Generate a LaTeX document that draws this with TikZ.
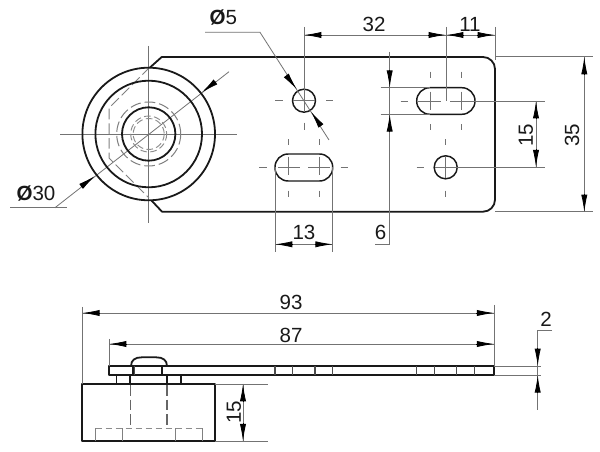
\documentclass[tikz,border=0pt]{standalone}
\usepackage{fontspec}
\setmainfont{Liberation Sans}
\usetikzlibrary{arrows.meta}
\tikzset{
  outline/.style={line width=1.35pt,black!90,line join=round},
  thinline/.style={line width=0.7pt,black!55},
  dimline/.style={line width=0.6pt,black!55},
  hidden/.style={line width=0.75pt,black!50,dash pattern=on 8pt off 3pt},
  hiddenb/.style={line width=0.7pt,black!45,dash pattern=on 5pt off 2.5pt},
  hiddenk/.style={line width=1pt,black!60,dash pattern=on 8pt off 3pt},
  tip/.style={-{Latex[length=13pt,width=4.6pt]},line width=0.6pt,black},
  lbl/.style={inner sep=0pt,font=\fontsize{15.4}{17}\selectfont,text=black!90},
}
\newcommand{\diam}{{\bfseries Ø}}
\begin{document}
\begin{tikzpicture}[x=0.75pt,y=-0.75pt]
\useasboundingbox (0,0) rectangle (600,452);
\fill[white] (0,0) rectangle (600,452);
% --- centre lines of the roller
\draw[thinline] (60,134) -- (237,134);
\draw[thinline] (148.7,46) -- (148.7,223);
% --- Ø30 leader
\draw[dimline] (10,207.7) -- (66.7,207.7);
\draw[dimline] (55,207.7) -- (229,71.7);
\draw[tip] (81,186.5) -- (95,176);
\draw[tip] (215.7,81.7) -- (201.7,92.5);
% --- hidden edges in the roller
\draw[hidden] (150,67) -- (109,108) -- (109,158) -- (149,198);
\draw[hidden] (148.7,134) circle [radius=32];
\draw[hiddenb] (148.7,134) circle [radius=18];
\draw[hiddenb] (148.7,134) circle [radius=15.5];
% --- roller
\draw[outline] (148.7,134) circle [radius=66.3];
\draw[outline] (148.7,134) circle [radius=53.3];
\draw[outline] (148.7,134) circle [radius=26.7];
% --- plate
\draw[outline] (150,67.5) -- (161.7,57) [rounded corners=9pt] -- (495,57) -- (495,211.7) [sharp corners] -- (162,211.7) -- (151.7,200.7);
% --- holes and slots
\draw[outline,line width=1.1pt] (304,100.7) circle [radius=11.5];
\draw[outline,line width=1.1pt] (445.7,167.3) circle [radius=11.5];
\draw[outline,line width=1.1pt,rounded corners=9.9pt] (416.7,87.7) rectangle (475,114.3);
\draw[outline,line width=1.1pt,rounded corners=9.9pt] (275,154) rectangle (332.7,181);
% --- centre-line pieces
\foreach \a/\b in {275/283,293/315,326/333}{\draw[thinline] (\a,100.7) -- (\b,100.7);}
\draw[thinline] (304,122.7) -- (304,130);
\foreach \a/\b in {400.7/408.3,418/441}{\draw[thinline] (\a,101) -- (\b,101);}
\foreach \x in {430,461}{
  \draw[thinline] (\x,71.7) -- (\x,78.3);
  \draw[thinline] (\x,91.7) -- (\x,110);
  \draw[thinline] (\x,124.3) -- (\x,130);
}
\foreach \a/\b in {259.3/266.7,278/300,308/330,340.7/348.3}{\draw[thinline] (\a,167.5) -- (\b,167.5);}
\foreach \x in {288.3,319.3}{
  \draw[thinline] (\x,139.3) -- (\x,145);
  \draw[thinline] (\x,156.7) -- (\x,175);
  \draw[thinline] (\x,190.7) -- (\x,196.7);
}
\foreach \a/\b in {416.7/424,435/457}{\draw[thinline] (\a,167.3) -- (\b,167.3);}
\draw[thinline] (445.7,139.3) -- (445.7,145);
\draw[thinline] (445.7,156.7) -- (445.7,178);
\draw[thinline] (445.7,190.7) -- (445.7,196.7);
% --- Ø5 leader
\draw[dimline] (205,32.3) -- (260,32.3) -- (329,140);
\draw[tip] (286.7,76) -- (296.7,89.3);
\draw[tip] (321,126) -- (311,111.7);
\node[lbl] (d5) at (223.3,17.5) {\diam5};
\node[lbl] (d30) at (36,193.5) {\diam30};
% --- 32 and 11
\draw[dimline] (304,27) -- (304,112);
\draw[dimline] (446,27) -- (446,101);
\draw[dimline] (495,27) -- (495,60);
\draw[dimline] (304,35) -- (495,35);
\draw[tip] (322,35) -- (304,35);
\draw[tip] (428,35) -- (446,35);
\draw[tip] (464,35) -- (446,35);
\draw[tip] (477,35) -- (495,35);
\node[lbl] (n32) at (374,24) {32};
\node[lbl] (n11) at (470,24) {11};
% --- 35
\draw[dimline] (495,56.7) -- (592.7,56.7);
\draw[dimline] (495,211.7) -- (592.7,211.7);
\draw[dimline] (584.3,57) -- (584.3,212);
\draw[tip] (584.3,75) -- (584.3,57);
\draw[tip] (584.3,194) -- (584.3,212);
\node[lbl,rotate=90] (n35) at (572,135) {35};
% --- 15 (plate)
\draw[dimline] (450,101) -- (545,101);
\draw[dimline] (457,167.3) -- (545,167.3);
\draw[dimline] (536,101) -- (536,167.3);
\draw[tip] (536,119) -- (536,101);
\draw[tip] (536,149.3) -- (536,167.3);
\node[lbl,rotate=90] (n15a) at (526,135) {15};
% --- 6
\draw[dimline] (380.7,87.7) -- (430,87.7);
\draw[dimline] (380.7,114.3) -- (430,114.3);
\draw[dimline] (389.7,52) -- (389.7,244) -- (375,244);
\draw[tip] (389.7,69.7) -- (389.7,87.7);
\draw[tip] (389.7,132.3) -- (389.7,114.3);
\node[lbl] (n6) at (380.7,232.5) {6};
% --- 13
\draw[dimline] (275,167.5) -- (275,252);
\draw[dimline] (332.7,167.5) -- (332.7,252);
\draw[dimline] (275,244.3) -- (332.7,244.3);
\draw[tip] (293,244.3) -- (275,244.3);
\draw[tip] (314.7,244.3) -- (332.7,244.3);
\node[lbl] (n13) at (304,232) {13};
% --- side view: plate
\draw[outline] (109,366.3) rectangle (494.3,375.3);
\foreach \x in {275,292.7,315,332.7,416.7,434.3,456.7,474.7}{\draw[line width=0.8pt,black!70] (\x,366.3) -- (\x,375.3);}
\draw[line width=0.8pt,black!70] (134,366.3) -- (134,375.3);
\draw[outline] (133,366.3) -- (133,375.3);
\draw[outline] (162.3,366.3) -- (162.3,375.3);
% --- head
\draw[outline] (131,366.3) .. controls (131,360) and (135,357.3) .. (142,357.3) -- (156,357.3) .. controls (163,357.3) and (167,360) .. (167,366.3);
% --- spacer
\draw[outline,line width=1.1pt] (116.7,375.3) -- (116.7,384);
\draw[outline,line width=1.1pt] (130,375.3) -- (130,384);
\draw[outline,line width=1.1pt] (167,375.3) -- (167,384);
\draw[outline,line width=1.1pt] (181,375.3) -- (181,384);
% --- side view: roller
\draw[outline] (82.3,384) rectangle (215.3,441.3);
\draw[hiddenk] (130.5,385) -- (130.5,428);
\draw[hiddenk] (167,385) -- (167,428);
\draw[hiddenb] (95.7,428.3) -- (202.3,428.3);
\foreach \x in {95.7,122.3,175.3,202.3}{\draw[line width=0.6pt,black!50] (\x,428.3) -- (\x,441.3);}
% --- 93 and 87
\draw[dimline] (82.3,307) -- (82.3,384);
\draw[dimline] (109,339) -- (109,366);
\draw[dimline] (494.3,305) -- (494.3,366);
\draw[dimline] (82.3,313) -- (494.3,313);
\draw[dimline] (109,344) -- (494.3,344);
\draw[tip] (100.3,313) -- (82.3,313);
\draw[tip] (476.3,313) -- (494.3,313);
\draw[tip] (127,344) -- (109,344);
\draw[tip] (476.3,344) -- (494.3,344);
\node[lbl] (n93) at (291,302) {93};
\node[lbl] (n87) at (291,335) {87};
% --- 2
\draw[dimline] (494.3,366) -- (541,366);
\draw[dimline] (494.3,375.3) -- (541,375.3);
\draw[dimline] (552,330.7) -- (537.7,330.7) -- (537.7,410);
\draw[tip] (537.7,348) -- (537.7,366);
\draw[tip] (537.7,393) -- (537.7,375.3);
\node[lbl] (n2) at (546,319) {2};
% --- 15 (roller)
\draw[dimline] (215.3,384) -- (268,384);
\draw[dimline] (215.3,441.3) -- (268,441.3);
\draw[dimline] (243,384) -- (243,441.3);
\draw[tip] (243,402) -- (243,384);
\draw[tip] (243,423.3) -- (243,441.3);
\node[lbl,rotate=90] (n15b) at (234,412) {15};
\end{tikzpicture}
\end{document}
